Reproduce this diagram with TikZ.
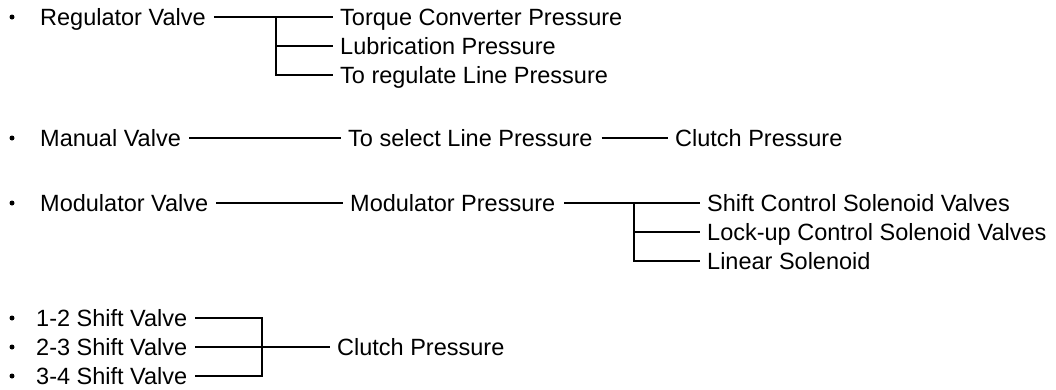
\documentclass[tikz,border=0pt]{standalone}
\usepackage{fontspec}
\setmainfont{Liberation Sans}
\begin{document}
\begin{tikzpicture}[x=1pt,y=-1pt,
  lbl/.style={anchor=west,inner sep=0pt,text height=16.8pt,text depth=0pt,font=\fontsize{23.5}{28}\selectfont},
  bul/.style={circle,fill=black,inner sep=0pt,minimum size=5pt},
  ln/.style={line width=1.6pt}]
\useasboundingbox (0,0) rectangle (1056,389);
% Row 1
\node[bul] (b1) at (12,17) {};
\node[lbl] (reg) at (40,17) {Regulator Valve};
\node[lbl] (tcp) at (340,17) {Torque Converter Pressure};
\node[lbl] (lub) at (340,46) {Lubrication Pressure};
\node[lbl] (trl) at (340,75) {To regulate Line Pressure};
\coordinate (j1) at (276,17);
\draw[ln] ([xshift=8pt]reg.east) -- ([xshift=-7pt]tcp.west);
\draw[ln] (j1) |- ([xshift=-7pt]trl.west);
\draw[ln] (j1 |- lub) -- ([xshift=-7pt]lub.west);
% Row 2
\node[bul] (b2) at (12,138) {};
\node[lbl] (man) at (40,138) {Manual Valve};
\node[lbl] (tsl) at (348,138) {To select Line Pressure};
\node[lbl] (cp1) at (675,138) {Clutch Pressure};
\draw[ln] ([xshift=8pt]man.east) -- ([xshift=-7pt]tsl.west);
\draw[ln] ([xshift=9pt]tsl.east) -- ([xshift=-7pt]cp1.west);
% Row 3
\node[bul] (b3) at (12,203) {};
\node[lbl] (mod) at (40,203) {Modulator Valve};
\node[lbl] (mp) at (350,203) {Modulator Pressure};
\node[lbl] (scs) at (707,203) {Shift Control Solenoid Valves};
\node[lbl] (lcs) at (707,232) {Lock-up Control Solenoid Valves};
\node[lbl] (lin) at (707,261) {Linear Solenoid};
\coordinate (j3) at (634,203);
\draw[ln] ([xshift=8pt]mod.east) -- ([xshift=-7pt]mp.west);
\draw[ln] ([xshift=9pt]mp.east) -- ([xshift=-7pt]scs.west);
\draw[ln] (j3) |- ([xshift=-7pt]lin.west);
\draw[ln] (j3 |- lcs) -- ([xshift=-7pt]lcs.west);
% Row 4
\node[bul] (b4) at (12,318) {};
\node[bul] (b5) at (12,347) {};
\node[bul] (b6) at (12,376) {};
\node[lbl] (s12) at (36,318) {1-2 Shift Valve};
\node[lbl] (s23) at (36,347) {2-3 Shift Valve};
\node[lbl] (s34) at (36,376) {3-4 Shift Valve};
\node[lbl] (cp2) at (337,347) {Clutch Pressure};
\coordinate (j4) at (262,318);
\coordinate (j5) at (262,376);
\draw[ln] ([xshift=8pt]s12.east) -- (j4) -- (j5) -- ([xshift=8pt]s34.east);
\draw[ln] ([xshift=8pt]s23.east) -- ([xshift=-7pt]cp2.west);
\end{tikzpicture}
\end{document}
